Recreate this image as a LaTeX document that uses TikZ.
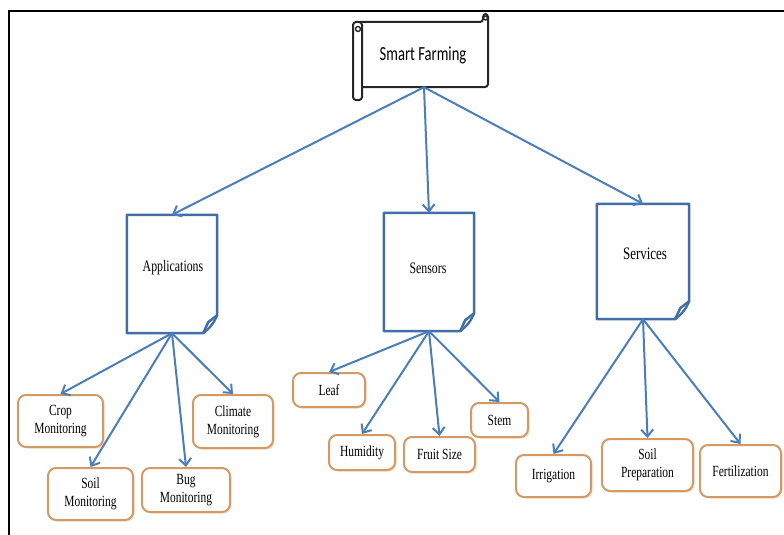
\documentclass[tikz,border=0pt]{standalone}
\usepackage{fontspec}
\setmainfont{Liberation Serif}
\newfontfamily\condserif[FakeStretch=0.74]{Liberation Serif}
\newfontfamily\condcalibri[FakeStretch=0.73]{Carlito}
\usetikzlibrary{arrows.meta,shadows}
\definecolor{arrblue}{HTML}{4A7EBB}
\definecolor{docblue}{HTML}{416DA8}
\definecolor{boxorange}{HTML}{D39A66}
\definecolor{shadoworange}{HTML}{F6DEC8}
\newcommand\docoutline[1]{%
  \draw[docline] (#1.north west) -- (#1.north east) -- ([yshift=18pt]#1.south east)
    .. controls ([xshift=-5pt,yshift=8pt]#1.south east) .. ([xshift=-14pt]#1.south east)
    -- (#1.south west) -- cycle;
  \draw[docline] ([yshift=18pt]#1.south east) -- ([xshift=-9pt,yshift=11pt]#1.south east)
    -- ([xshift=-14pt]#1.south east);}
\begin{document}
\begin{tikzpicture}[x=1pt,y=-1pt,
  arr/.style={draw=arrblue, line width=2pt, -{Straight Barb[length=7pt,width=12pt]}},
  docbox/.style={draw=none, minimum width=#1, minimum height=118pt, inner sep=0pt},
  docline/.style={draw=docblue, line width=2.5pt, fill=white, line join=round},
  doctext/.style={font=\condserif\fontsize{16}{18}\selectfont, inner sep=0pt},
  leafbox/.style={draw=boxorange, line width=2pt, rounded corners=8pt, fill=white,
    align=center, font=\condserif\fontsize{15.5}{18}\selectfont, inner sep=1pt,
    drop shadow={shadow xshift=1.5pt, shadow yshift=-1.5pt, fill=shadoworange, opacity=1}},
  scrollline/.style={draw=black!85, line width=2pt, fill=white, line join=round}
]
\useasboundingbox (0,0) rectangle (784,535);
% frame
\draw[line width=2pt, black] (9,535) -- (9,11) -- (784,11);

% scroll (Smart Farming)
\draw[scrollline, rounded corners=3pt] (360,22) -- (483,22) -- (483,14) -- (488,14) -- (488,87) -- (362,87);
\draw[scrollline, rounded corners=3pt] (362,22) -- (362,100) -- (353,100) -- (353,22) -- cycle;
\draw[scrollline, line width=1.4pt] (358,29) circle (2.5pt);
\draw[scrollline, line width=1.4pt] (485.5,18) circle (2pt);
\node[minimum width=125pt, minimum height=65pt, inner sep=0pt] (sf) at (424,54.5) {};
\node[font=\condcalibri\fontsize{20}{22}\selectfont, inner sep=0pt] (sft) at (423,55) {Smart Farming};

% documents
\node[docbox=90pt] (app) at (172,274) {};
\node[docbox=90pt] (sen) at (429,272) {};
\node[docbox=92pt, minimum height=115pt] (ser) at (643,261.5) {};
\docoutline{app}
\docoutline{sen}
\docoutline{ser}
\node[doctext] (appt) at (173,268) {Applications};
\node[doctext] (sent) at (428,268) {Sensors};
\node[doctext, font=\condserif\fontsize{17.5}{20}\selectfont] (sert) at (645,254) {Services};

% leaf boxes
\node[leafbox, minimum width=85pt, minimum height=52pt] (crop) at (60.5,421) {Crop\\Monitoring};
\node[leafbox, minimum width=85pt, minimum height=52pt] (soil) at (90.5,494) {Soil\\Monitoring};
\node[leafbox, minimum width=88pt, minimum height=44pt] (bug) at (186,490) {Bug\\Monitoring};
\node[leafbox, minimum width=80pt, minimum height=53pt] (clim) at (233,421.5) {Climate\\Monitoring};
\node[leafbox, minimum width=72pt, minimum height=34pt] (leaf) at (329,390) {Leaf};
\node[leafbox, minimum width=66pt, minimum height=35pt] (hum) at (362,452.5) {Humidity};
\node[leafbox, minimum width=71pt, minimum height=35pt] (fruit) at (439.5,454.5) {Fruit Size};
\node[leafbox, minimum width=57pt, minimum height=34pt] (stem) at (499.5,420) {Stem};
\node[leafbox, minimum width=75pt, minimum height=42pt] (irr) at (553.5,476) {Irrigation};
\node[leafbox, minimum width=91pt, minimum height=52pt] (prep) at (647.5,465) {Soil\\Preparation};
\node[leafbox, minimum width=81pt, minimum height=52pt] (fert) at (740.5,471) {Fertilization};

% connectors
\draw[arr] (sf.south) -- (app.north);
\draw[arr] (sf.south) -- (sen.north);
\draw[arr] (sf.south) -- (ser.north);
\draw[arr] (app.south) -- (crop.north);
\draw[arr] (app.south) -- (soil.north);
\draw[arr] (app.south) -- (bug.north);
\draw[arr] (app.south) -- (clim.north);
\draw[arr] (sen.south) -- (leaf.north);
\draw[arr] (sen.south) -- (hum.north);
\draw[arr] (sen.south) -- (fruit.north);
\draw[arr] (sen.south) -- (stem.north);
\draw[arr] (ser.south) -- (irr.north);
\draw[arr] (ser.south) -- (prep.north);
\draw[arr] (ser.south) -- (fert.north);
\end{tikzpicture}
\end{document}
